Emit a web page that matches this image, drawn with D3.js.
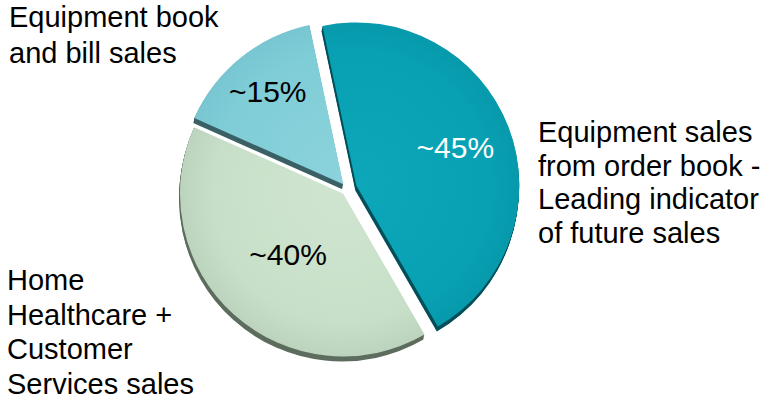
<!DOCTYPE html>
<html>
<head>
<meta charset="utf-8">
<script src="https://cdn.jsdelivr.net/npm/d3@7"></script>
<style>
  body { margin: 0; background: #ffffff; }
  svg { display: block; font-family: "Liberation Sans", Arial, Helvetica, sans-serif; }
</style>
</head>
<body>
<svg id="chart" width="763" height="399"></svg>
<script>
// Revenue mix by source (approximate shares, %)
const segments = ["Equipment order book", "Home Healthcare + Customer Services", "Equipment book and bill"];
const shares = [45, 40, 15];
const shareLabels = ["~45%", "~40%", "~15%"];
const segmentLines = [
  ["Equipment sales", "from order book -", "Leading indicator", "of future sales"],
  ["Home", "Healthcare +", "Customer", "Services sales"],
  ["Equipment book", "and bill sales"]
];

// Styling
const topColors  = ["#08a1b4", "#c7dfc8", "#7fcdd7"];
const lightColors = ["#0ea6b9", "#d0e5d0", "#8cd3dc"];
const edgeColors = ["#0799ac", "#bcd4be", "#78c6d1"];
const sideColors = ["#05505a", "#5d6d5e", "#3b6166"];
const pctColors  = ["#ffffff", "#000000", "#000000"];

// Layout
const width = 763, height = 399;
const cx = 347, cy = 189, radius = 163;
const startAngle = -12 * Math.PI / 180;
const explode = [10, 6, 6];
const pctRadius = [106, 82, 120];
const depth = { dx: -1, dy: 5, steps: 6 };
const blockAnchors = [
  { x: 538, y: 142, lh: 33.6 },
  { x: 7,   y: 290, lh: 34.5 },
  { x: 9,   y: 27,  lh: 36 }
];

const svg = d3.select("#chart");
const defs = svg.append("defs");

const pie = d3.pie()
  .sort(null)
  .startAngle(startAngle)
  .endAngle(startAngle + 2 * Math.PI)
  .value(d => d);

const arc = d3.arc().innerRadius(0).outerRadius(radius);
const arcs = pie(shares);

// Soft radial shading for each slice face
arcs.forEach((a, i) => {
  const g = defs.append("radialGradient")
    .attr("id", "face" + i)
    .attr("gradientUnits", "userSpaceOnUse")
    .attr("cx", 0).attr("cy", 0).attr("r", radius);
  g.append("stop").attr("offset", "0%").attr("stop-color", lightColors[i]);
  g.append("stop").attr("offset", "80%").attr("stop-color", topColors[i]);
  g.append("stop").attr("offset", "100%").attr("stop-color", edgeColors[i]);
});

const slices = svg.append("g").attr("transform", `translate(${cx},${cy})`);

arcs.forEach((a, i) => {
  const mid = (a.startAngle + a.endAngle) / 2;
  const ox = explode[i] * Math.sin(mid);
  const oy = -explode[i] * Math.cos(mid);
  const g = slices.append("g").attr("transform", `translate(${ox},${oy})`);

  // extruded side of the slice
  for (let s = depth.steps; s >= 1; s--) {
    g.append("path")
      .attr("d", arc(a))
      .attr("transform", `translate(${depth.dx * s / depth.steps},${depth.dy * s / depth.steps})`)
      .attr("fill", sideColors[i]);
  }
  // top face
  g.append("path")
    .attr("d", arc(a))
    .attr("fill", `url(#face${i})`);

  // share label
  g.append("text")
    .attr("x", pctRadius[i] * Math.sin(mid))
    .attr("y", -pctRadius[i] * Math.cos(mid))
    .attr("dy", "0.36em")
    .attr("text-anchor", "middle")
    .attr("font-size", 30)
    .attr("fill", pctColors[i])
    .text(shareLabels[i]);
});

// Category labels
segmentLines.forEach((lines, i) => {
  const b = blockAnchors[i];
  const t = svg.append("text")
    .attr("font-size", 29)
    .attr("fill", "#000000");
  lines.forEach((ln, j) => {
    t.append("tspan").attr("x", b.x).attr("y", b.y + j * b.lh).text(ln);
  });
});
</script>
</body>
</html>
